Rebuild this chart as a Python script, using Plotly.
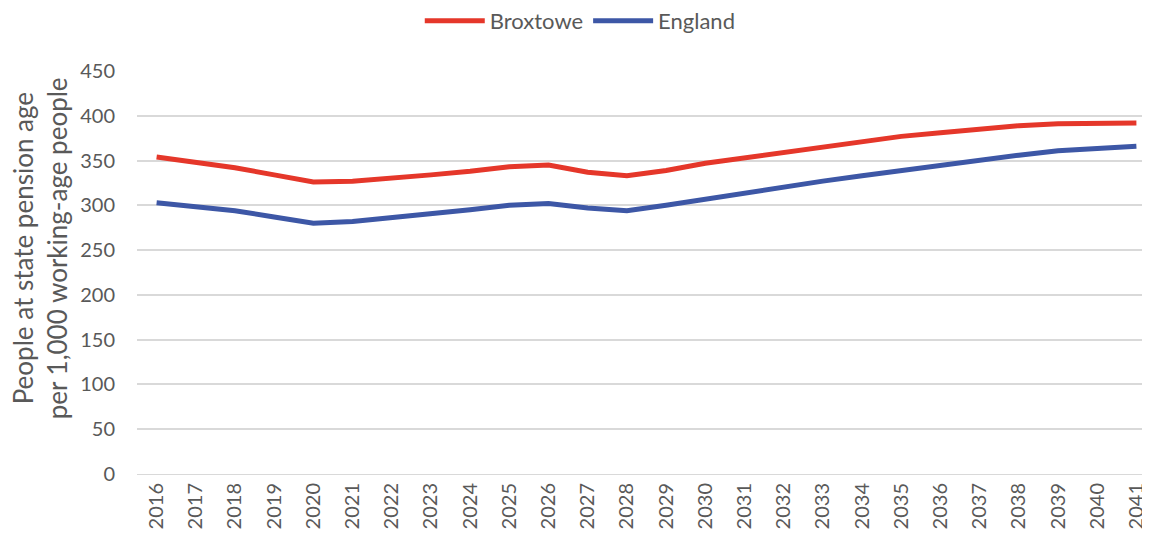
import plotly.graph_objects as go

years = [str(y) for y in range(2016, 2042)]
broxtowe = [354, 348, 342, 334, 326, 327, 330, 334, 338, 343, 345, 337, 333,
            339, 347, 353, 360, 366, 372, 377, 381, 385, 389, 391, 392, 392]
england = [303, 298, 294, 287, 280, 282, 286, 290, 295, 300, 302, 297, 294,
           300, 307, 314, 321, 327, 333, 339, 345, 351, 356, 361, 364, 366]
y_title = ['People at state pension age', 'per 1,000 working-age people']

grey = '#595959'
font_family = 'Lato, Liberation Sans, Arial, sans-serif'

fig = go.Figure()
fig.add_trace(go.Scatter(
    x=years, y=broxtowe, name='Broxtowe', mode='lines',
    line=dict(color='#E5372A', width=5),
))
fig.add_trace(go.Scatter(
    x=years, y=england, name='England', mode='lines',
    line=dict(color='#3D57A6', width=5),
))

# two-line y title placed by hand so the line gap matches
for i, txt in enumerate(y_title):
    fig.add_annotation(
        text=txt, textangle=-90, showarrow=False,
        xref='paper', yref='paper', x=0, y=0.56,
        xanchor='center', yanchor='middle',
        xshift=-114 + 34 * i,
        font=dict(size=26, color=grey),
    )

fig.update_layout(
    width=1150, height=540,
    margin=dict(l=129, r=2, t=63, b=74),
    plot_bgcolor='white', paper_bgcolor='white',
    font=dict(family=font_family, size=19, color=grey),
    showlegend=True,
    legend=dict(
        orientation='h', x=0.435, xanchor='center',
        yref='container', y=0.976, yanchor='middle',
        font=dict(size=22, color=grey), itemwidth=60,
    ),
    xaxis=dict(
        type='category', tickangle=-90, range=[-0.5, 25.5],
        showgrid=False, showline=True, linecolor='#d9d9d9', linewidth=1,
        ticks='', tickfont=dict(size=20, color=grey), automargin=False,
    ),
    yaxis=dict(
        range=[0, 450], dtick=50, showgrid=True, gridcolor='#d9d9d9',
        gridwidth=1.5, zeroline=False, ticks='', ticklabelstandoff=21,
        tickfont=dict(size=20, color=grey), automargin=False,
    ),
)

fig.write_html("out.html")
